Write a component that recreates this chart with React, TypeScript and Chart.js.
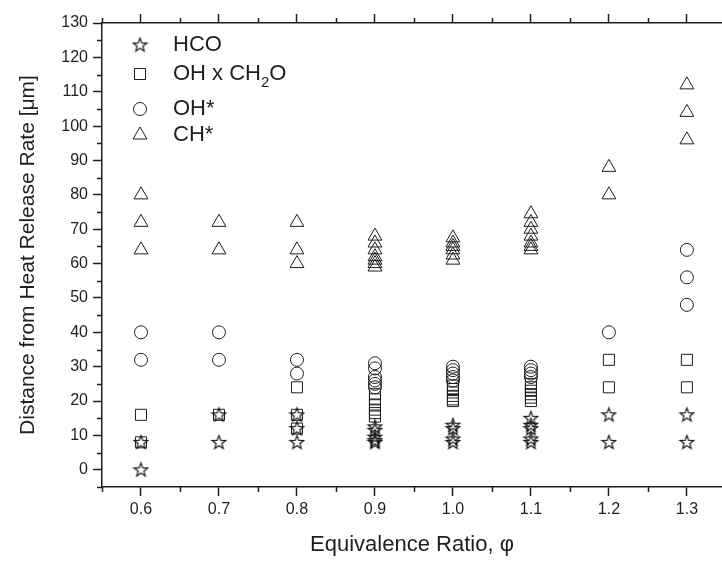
import React, { useEffect, useRef } from "react";
import { Chart, registerables } from "chart.js";

Chart.register(...registerables);

// ---- Data ----
const hcoX = [0.6, 0.6, 0.7, 0.7, 0.8, 0.8, 0.8, 0.9, 0.9, 0.9, 0.9, 0.9, 1.0, 1.0, 1.0, 1.0, 1.1, 1.1, 1.1, 1.1, 1.1, 1.2, 1.2, 1.3, 1.3];
const hcoY = [8, 0, 16, 8, 16, 12, 8, 12.5, 11.5, 9.5, 8.5, 8, 13, 12, 9, 8, 15, 13, 12, 9, 8, 16, 8, 16, 8];

const ohch2oX = [0.6, 0.6, 0.7, 0.8, 0.8, 0.8, 0.9, 0.9, 0.9, 0.9, 0.9, 0.9, 1.0, 1.0, 1.0, 1.0, 1.0, 1.0, 1.1, 1.1, 1.1, 1.1, 1.1, 1.1, 1.2, 1.2, 1.3, 1.3];
const ohch2oY = [16, 8, 16, 24, 16, 12, 22, 20.5, 19, 17.5, 16.5, 15.5, 24.5, 23.5, 22.5, 21.5, 20.5, 20, 25, 24, 23, 22, 21, 20, 32, 24, 32, 24];

const ohX = [0.6, 0.6, 0.7, 0.7, 0.8, 0.8, 0.9, 0.9, 0.9, 0.9, 0.9, 0.9, 1.0, 1.0, 1.0, 1.0, 1.0, 1.1, 1.1, 1.1, 1.1, 1.2, 1.3, 1.3, 1.3];
const ohY = [40, 32, 40, 32, 32, 28, 31, 29.5, 27, 26, 25, 24, 30, 29, 28, 27, 26, 30, 29, 28, 27, 40, 64, 56, 48];

const chX = [0.6, 0.6, 0.6, 0.7, 0.7, 0.8, 0.8, 0.8, 0.9, 0.9, 0.9, 0.9, 0.9, 0.9, 0.9, 1.0, 1.0, 1.0, 1.0, 1.0, 1.0, 1.1, 1.1, 1.1, 1.1, 1.1, 1.1, 1.1, 1.2, 1.2, 1.3, 1.3, 1.3];
const chY = [80, 72, 64, 72, 64, 72, 64, 60, 68, 66, 64, 62, 61, 60, 59, 67.5, 66, 65, 64, 62.5, 61, 74.5, 72, 70, 68, 66, 65, 64, 88, 80, 112, 104, 96];

const seriesLabels = ["HCO", "OH x CH_2O", "OH*", "CH*"];
const xTickValues = [0.6, 0.7, 0.8, 0.9, 1.0, 1.1, 1.2, 1.3];
const xMinorTicks = [0.55, 0.65, 0.75, 0.85, 0.95, 1.05, 1.15, 1.25];
const yTickValues = [0, 10, 20, 30, 40, 50, 60, 70, 80, 90, 100, 110, 120, 130];
const yMinorTicks = [-5, 5, 15, 25, 35, 45, 55, 65, 75, 85, 95, 105, 115, 125];
const xTitle = "Equivalence Ratio, \u03c6";
const yTitle = "Distance from Heat Release Rate [\u03bcm]";

const INK = "#1e1e1e";
const FONT = "'Liberation Sans', Arial, Helvetica, sans-serif";

function pts(xs: number[], ys: number[]) {
  return xs.map((x, i) => ({ x, y: ys[i] }));
}

function makeStar(): HTMLCanvasElement {
  const c = document.createElement("canvas");
  c.width = 17;
  c.height = 17;
  const g = c.getContext("2d")!;
  const cx = 8.5, cy = 8.8, R = 7.2, r = 3.0;
  g.beginPath();
  for (let i = 0; i < 10; i++) {
    const rad = i % 2 === 0 ? R : r;
    const a = -Math.PI / 2 + (i * Math.PI) / 5;
    const px = cx + rad * Math.cos(a);
    const py = cy + rad * Math.sin(a);
    if (i === 0) g.moveTo(px, py);
    else g.lineTo(px, py);
  }
  g.closePath();
  g.strokeStyle = "#111";
  g.lineWidth = 1.15;
  g.stroke();
  return c;
}

const minorTicks = {
  id: "minorTicks",
  afterDraw(chart: any) {
    const { ctx, chartArea, scales } = chart;
    ctx.save();
    ctx.strokeStyle = INK;
    ctx.lineWidth = 1.5;
    const xs = scales.x;
    xMinorTicks.forEach((v) => {
      const px = Math.round(xs.getPixelForValue(v)) + 0.5;
      ctx.beginPath();
      ctx.moveTo(px, chartArea.bottom);
      ctx.lineTo(px, chartArea.bottom + 5);
      ctx.moveTo(px, chartArea.top);
      ctx.lineTo(px, chartArea.top - 5);
      ctx.stroke();
    });
    const ys = scales.y;
    yMinorTicks.forEach((v) => {
      const py = Math.round(ys.getPixelForValue(v)) + 0.5;
      ctx.beginPath();
      ctx.moveTo(chartArea.left, py);
      ctx.lineTo(chartArea.left - 5, py);
      ctx.stroke();
    });
    ctx.restore();
  },
};

const customLegend = {
  id: "customLegend",
  afterDraw(chart: any) {
    const { ctx, chartArea } = chart;
    const mx = chartArea.left + 38;
    const tx = chartArea.left + 71;
    const rows = [22, 51, 86, 112];
    ctx.save();
    ctx.fillStyle = INK;
    ctx.strokeStyle = INK;
    ctx.lineWidth = 1;
    ctx.textBaseline = "middle";
    chart.data.datasets.forEach((ds: any, i: number) => {
      const y = chartArea.top + rows[i];
      const ps = ds.pointStyle;
      const r = ds.pointRadius;
      ctx.beginPath();
      if (ps instanceof HTMLCanvasElement) {
        ctx.drawImage(ps, mx - ps.width / 2, y - ps.height / 2);
      } else if (ps === "rect") {
        const s = Math.SQRT1_2 * r;
        ctx.rect(mx - s, y - s, 2 * s, 2 * s);
        ctx.stroke();
      } else if (ps === "circle") {
        ctx.arc(mx, y, r, 0, Math.PI * 2);
        ctx.stroke();
      } else if (ps === "triangle") {
        let a = 0;
        for (let k = 0; k < 3; k++) {
          const px = mx + Math.sin(a) * r;
          const py = y - Math.cos(a) * r;
          if (k === 0) ctx.moveTo(px, py);
          else ctx.lineTo(px, py);
          a += (2 * Math.PI) / 3;
        }
        ctx.closePath();
        ctx.stroke();
      }
      const label: string = ds.label;
      const parts = label.split("_");
      ctx.font = `22px ${FONT}`;
      let x = tx;
      if (parts.length === 1) {
        ctx.fillText(label, x, y);
      } else {
        ctx.fillText(parts[0], x, y);
        x += ctx.measureText(parts[0]).width;
        const sub = parts[1].charAt(0);
        const rest = parts[1].slice(1);
        ctx.font = `15px ${FONT}`;
        ctx.fillText(sub, x, y + 9);
        x += ctx.measureText(sub).width;
        ctx.font = `22px ${FONT}`;
        ctx.fillText(rest, x, y);
      }
    });
    ctx.restore();
  },
};

export default function App() {
  const ref = useRef<HTMLCanvasElement | null>(null);

  useEffect(() => {
    if (!ref.current) return;
    const star = makeStar();
    const common = {
      backgroundColor: "rgba(0,0,0,0)",
      borderColor: INK,
      borderWidth: 1,
      showLine: false,
    };
    const setXTicks = (s: any) => { s.ticks = xTickValues.map((v) => ({ value: v })); };
    const fitX = (h: number) => (s: any) => {
      s.height = h;
      s.paddingLeft = 0;
      s.paddingRight = 0;
    };
    const chart = new Chart(ref.current, {
      type: "scatter",
      data: {
        datasets: [
          { ...common, label: seriesLabels[0], data: pts(hcoX, hcoY), pointStyle: star as any, pointRadius: 7 },
          { ...common, label: seriesLabels[1], data: pts(ohch2oX, ohch2oY), pointStyle: "rect", pointRadius: 7.8 },
          { ...common, label: seriesLabels[2], data: pts(ohX, ohY), pointStyle: "circle", pointRadius: 6.5 },
          { ...common, label: seriesLabels[3], data: pts(chX, chY), pointStyle: "triangle", pointRadius: 8 },
        ],
      },
      options: {
        animation: false,
        responsive: false,
        maintainAspectRatio: false,
        layout: { autoPadding: false, padding: { left: 0, right: 0, top: 0, bottom: 0 } },
        plugins: { legend: { display: false }, tooltip: { enabled: false } },
        scales: {
          x: {
            type: "linear",
            position: "bottom",
            min: 0.55,
            max: 1.345,
            afterFit: fitX(74),
            afterBuildTicks: setXTicks,
            ticks: {
              color: INK,
              font: { family: FONT, size: 16 },
              padding: 4,
              maxRotation: 0,
              autoSkip: false,
              callback: (v: any) => Number(v).toFixed(1),
            },
            grid: { drawOnChartArea: false, drawTicks: true, tickLength: 9, tickWidth: 1.5, tickColor: INK },
            border: { display: true, color: INK, width: 1.5 },
            title: { display: true, text: xTitle, color: INK, font: { family: FONT, size: 22 }, padding: { top: 0, bottom: 3 } },
          },
          x2: {
            type: "linear",
            position: "top",
            min: 0.55,
            max: 1.345,
            afterFit: fitX(23),
            afterBuildTicks: setXTicks,
            ticks: { display: false },
            grid: { drawOnChartArea: false, drawTicks: true, tickLength: 9, tickWidth: 1.5, tickColor: INK },
            border: { display: true, color: INK, width: 1.5 },
          },
          y: {
            type: "linear",
            position: "left",
            min: -5,
            max: 130,
            afterFit: (s: any) => { s.width = 102; s.paddingTop = 0; s.paddingBottom = 0; },
            afterBuildTicks: (s: any) => { s.ticks = yTickValues.map((v) => ({ value: v })); },
            ticks: {
              color: INK,
              font: { family: FONT, size: 16 },
              padding: 5,
              autoSkip: false,
            },
            grid: { drawOnChartArea: false, drawTicks: true, tickLength: 9, tickWidth: 1.5, tickColor: INK },
            border: { display: true, color: INK, width: 1.5 },
            title: { display: true, text: yTitle, color: INK, font: { family: FONT, size: 21 }, padding: { top: 16, bottom: 0 } },
          },
        },
      },
      plugins: [minorTicks, customLegend],
    });
    return () => chart.destroy();
  }, []);

  return (
    <div style={{ position: "fixed", left: 0, top: 0, width: 722, height: 561, background: "#fff" }}>
      <canvas ref={ref} width={722} height={561} style={{ width: 722, height: 561, display: "block" }} />
    </div>
  );
}
